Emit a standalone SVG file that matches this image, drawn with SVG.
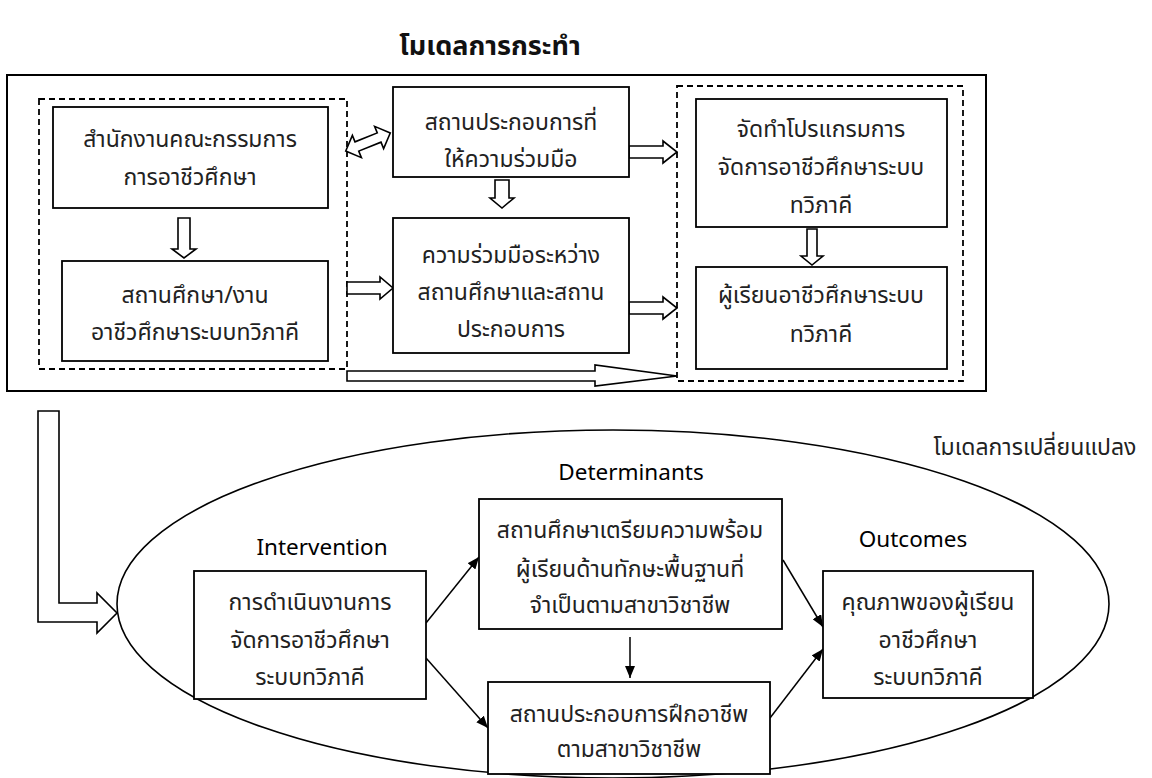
<svg xmlns="http://www.w3.org/2000/svg" width="1152" height="778" viewBox="0 0 1152 778">
<style>
.box{fill:#fff;stroke:#000;stroke-width:1.8}
.dash{fill:none;stroke:#000;stroke-width:1.8;stroke-dasharray:6 4}
.hol{fill:#fff;stroke:#000;stroke-width:1.6;stroke-linejoin:miter}
.ln{fill:none;stroke:#000;stroke-width:1.5}
.t{font-family:"Noto Sans Thai","Noto Sans","Liberation Sans",sans-serif;font-size:23px;text-anchor:middle;fill:#222}
.h{font-family:"Noto Sans","Open Sans","Liberation Sans",sans-serif;font-size:22.5px;text-anchor:middle;fill:#000}
.title{font-family:"Noto Sans Thai","Noto Sans","Liberation Sans",sans-serif;font-size:27px;font-weight:bold;text-anchor:middle;fill:#111}
</style>
<defs>
<marker id="ah" viewBox="0 0 12 10" refX="12" refY="5" markerWidth="12" markerHeight="10" markerUnits="userSpaceOnUse" orient="auto">
<path d="M0,0 L12,5 L0,10 Z" fill="#000"/>
</marker>
</defs>
<rect width="1152" height="778" fill="#fff"/>
<text class="title" x="490" y="55">โมเดลการกระทำ</text>
<rect id="frame" x="7" y="75" width="979" height="316" fill="none" stroke="#000" stroke-width="2"/>
<rect id="groupLeft" class="dash" x="39" y="99" width="308" height="270"/>
<rect id="groupRight" class="dash" x="677" y="86" width="286" height="295"/>
<ellipse id="changeModel" cx="613" cy="604" rx="496" ry="174" fill="none" stroke="#000" stroke-width="1.6"/>
<g id="connectors">
<polygon class="hol" points="178,218 190,218 190,249 196,249 184,258 172,249 178,249"/>
<polygon class="hol" points="495,180 509,180 509,198 514,198 502,208 490,198 495,198"/>
<polygon class="hol" points="807,229 817,229 817,256 823,256 812,265 801,256 807,256"/>
<polygon class="hol" transform="translate(368,142) rotate(-22)" points="-24,0 -12,-12 -12,-5 12,-5 12,-12 24,0 12,12 12,5 -12,5 -12,12"/>
<polygon class="hol" points="629,146 663,146 663,141 677,152 663,163 663,158 629,158"/>
<polygon class="hol" points="629,302 663,302 663,297 677,308 663,319 663,314 629,314"/>
<polygon class="hol" points="347,282 380,282 380,277 393,288 380,299 380,294 347,294"/>
<polygon class="hol" points="347,371 595,371 595,365 677,376 595,386 595,381 347,381"/>
<polygon class="hol" points="38,411 59,411 59,603 97,603 97,593 117,613 97,633 97,622 38,622"/>
<line class="ln" x1="426" y1="623" x2="479" y2="557" marker-end="url(#ah)"/>
<line class="ln" x1="426" y1="658" x2="488" y2="728" marker-end="url(#ah)"/>
<line class="ln" x1="630" y1="637" x2="630" y2="678" marker-end="url(#ah)"/>
<line class="ln" x1="783" y1="560" x2="823" y2="627" marker-end="url(#ah)"/>
<line class="ln" x1="770" y1="718" x2="823" y2="649" marker-end="url(#ah)"/>
</g>
<g id="n1"><rect class="box" x="53" y="107" width="275" height="101"/>
<text class="t" x="190" y="147">สำนักงานคณะกรรมการ</text><text class="t" x="190" y="185">การอาชีวศึกษา</text></g>
<g id="n2"><rect class="box" x="62" y="261" width="266" height="100"/>
<text class="t" x="195" y="303">สถานศึกษา/งาน</text><text class="t" x="195" y="340">อาชีวศึกษาระบบทวิภาคี</text></g>
<g id="n3"><rect class="box" x="393" y="87" width="236" height="90"/>
<text class="t" x="511" y="130">สถานประกอบการที่</text><text class="t" x="511" y="167">ให้ความร่วมมือ</text></g>
<g id="n4"><rect class="box" x="393" y="218" width="236" height="135"/>
<text class="t" x="511" y="263">ความร่วมมือระหว่าง</text><text class="t" x="511" y="300">สถานศึกษาและสถาน</text><text class="t" x="511" y="337">ประกอบการ</text></g>
<g id="n5"><rect class="box" x="696" y="99" width="251" height="128"/>
<text class="t" x="821" y="137">จัดทำโปรแกรมการ</text><text class="t" x="821" y="175">จัดการอาชีวศึกษาระบบ</text><text class="t" x="821" y="213">ทวิภาคี</text></g>
<g id="n6"><rect class="box" x="696" y="267" width="251" height="102"/>
<text class="t" x="821" y="303">ผู้เรียนอาชีวศึกษาระบบ</text><text class="t" x="821" y="342">ทวิภาคี</text></g>
<text class="t" x="1035" y="455">โมเดลการเปลี่ยนแปลง</text>
<text class="h" x="322" y="555">Intervention</text>
<text class="h" x="631" y="480">Determinants</text>
<text class="h" x="913" y="547">Outcomes</text>
<g id="n7"><rect class="box" x="194" y="571" width="232" height="128"/>
<text class="t" x="310" y="610">การดำเนินงานการ</text><text class="t" x="310" y="648">จัดการอาชีวศึกษา</text><text class="t" x="310" y="685">ระบบทวิภาคี</text></g>
<g id="n8"><rect class="box" x="479" y="499" width="303" height="130"/>
<text class="t" x="630" y="538">สถานศึกษาเตรียมความพร้อม</text><text class="t" x="630" y="577">ผู้เรียนด้านทักษะพื้นฐานที่</text><text class="t" x="630" y="613">จำเป็นตามสาขาวิชาชีพ</text></g>
<g id="n9"><rect class="box" x="488" y="682" width="282" height="92"/>
<text class="t" x="629" y="722">สถานประกอบการฝึกอาชีพ</text><text class="t" x="629" y="757">ตามสาขาวิชาชีพ</text></g>
<g id="n10"><rect class="box" x="823" y="571" width="210" height="127"/>
<text class="t" x="928" y="610">คุณภาพของผู้เรียน</text><text class="t" x="928" y="648">อาชีวศึกษา</text><text class="t" x="928" y="685">ระบบทวิภาคี</text></g>
</svg>
